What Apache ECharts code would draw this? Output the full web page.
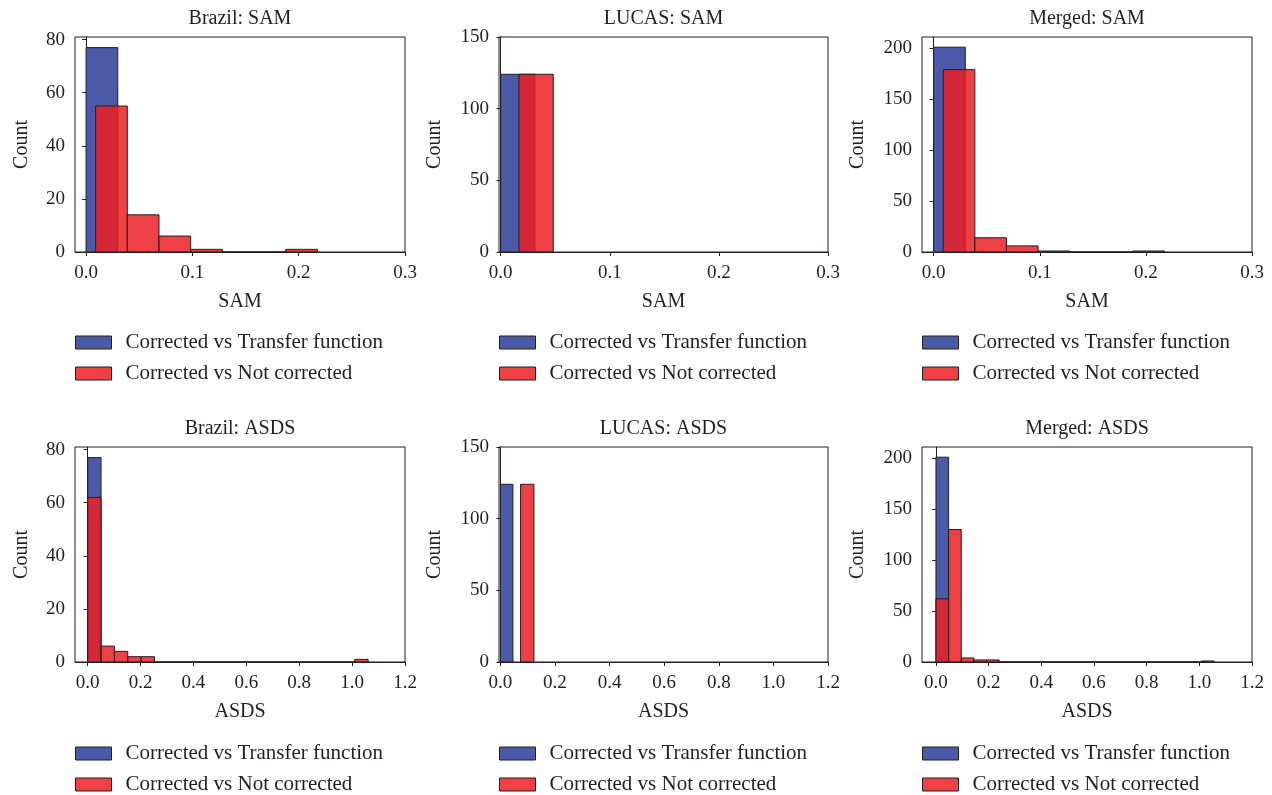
<!DOCTYPE html>
<html>
<head>
<meta charset="utf-8">
<title>SAM / ASDS histograms</title>
<script src="https://cdn.jsdelivr.net/npm/echarts@6/dist/echarts.min.js"></script>
<style>
    html, body { margin: 0; padding: 0; background: #fff; }
    #chart { width: 1272px; height: 795px; }
</style>
</head>
<body>
<div id="chart"></div>
<script>
    // tick labels
    let samTicks = [0, 0.1, 0.2, 0.3];
    let asdsTicks = [0, 0.2, 0.4, 0.6, 0.8, 1.0, 1.2];
    let brazilCountTicks = [0, 20, 40, 60, 80];
    let lucasCountTicks = [0, 50, 100, 150];
    let mergedCountTicks = [0, 50, 100, 150, 200];

    let seriesNames = ['Corrected vs Transfer function', 'Corrected vs Not corrected'];

    // bins: edges (n+1) and counts (n)
    let brazilSamTfEdges = [0, 0.0298];
    let brazilSamTfCounts = [77];
    let brazilSamNcEdges = [0.009, 0.0388, 0.0686, 0.0984, 0.1282, 0.158, 0.1878, 0.2176];
    let brazilSamNcCounts = [55, 14, 6, 1, 0, 0, 1];

    let lucasSamTfEdges = [0, 0.0314];
    let lucasSamTfCounts = [124];
    let lucasSamNcEdges = [0.0168, 0.0482];
    let lucasSamNcCounts = [124];

    let mergedSamTfEdges = [0, 0.0298];
    let mergedSamTfCounts = [201];
    let mergedSamNcEdges = [0.009, 0.0388, 0.0686, 0.0984, 0.1282, 0.158, 0.1878, 0.2176];
    let mergedSamNcCounts = [179, 14, 6, 1, 0, 0, 1];

    let brazilAsdsTfEdges = [0, 0.0505];
    let brazilAsdsTfCounts = [77];
    let brazilAsdsNcEdges = [0, 0.0505, 0.101, 0.1515, 0.202, 0.2525, 0.303, 0.3535, 0.404, 0.4545, 0.505,
        0.5555, 0.606, 0.6565, 0.707, 0.7575, 0.808, 0.8585, 0.909, 0.9595, 1.01, 1.0605];
    let brazilAsdsNcCounts = [62, 6, 4, 2, 2, 0, 0, 0, 0, 0, 0, 0, 0, 0, 0, 0, 0, 0, 0, 0, 1];

    let lucasAsdsTfEdges = [0, 0.046];
    let lucasAsdsTfCounts = [124];
    let lucasAsdsNcEdges = [0.074, 0.123];
    let lucasAsdsNcCounts = [124];

    let mergedAsdsTfEdges = [0, 0.048];
    let mergedAsdsTfCounts = [201];
    let mergedAsdsNcEdges = [0, 0.048, 0.096, 0.144, 0.192, 0.24, 0.288, 0.336, 0.384, 0.432, 0.48, 0.528,
        0.576, 0.624, 0.672, 0.72, 0.768, 0.816, 0.864, 0.912, 0.96, 1.008, 1.056];
    let mergedAsdsNcCounts = [62, 130, 4, 2, 2, 0, 0, 0, 0, 0, 0, 0, 0, 0, 0, 0, 0, 0, 0, 0, 0, 1];

    let font = '"Liberation Serif", "DejaVu Serif", serif';
    let ink = '#231f20';
    let blue = '#4a5aa8';
    let red = 'rgba(236, 30, 36, 0.85)';

    let panels = [
        {title: 'Brazil: SAM', xName: 'SAM', xTicks: samTicks, xMin: -0.0104, xMax: 0.3, yTicks: brazilCountTicks, yMax: 81,
            tf: [brazilSamTfEdges, brazilSamTfCounts], nc: [brazilSamNcEdges, brazilSamNcCounts]},
        {title: 'LUCAS: SAM', xName: 'SAM', xTicks: samTicks, xMin: -0.0015, xMax: 0.3, yTicks: lucasCountTicks, yMax: 150,
            tf: [lucasSamTfEdges, lucasSamTfCounts], nc: [lucasSamNcEdges, lucasSamNcCounts]},
        {title: 'Merged: SAM', xName: 'SAM', xTicks: samTicks, xMin: -0.011, xMax: 0.3, yTicks: mergedCountTicks, yMax: 211,
            tf: [mergedSamTfEdges, mergedSamTfCounts], nc: [mergedSamNcEdges, mergedSamNcCounts]},
        {title: 'Brazil: ASDS', xName: 'ASDS', xTicks: asdsTicks, xMin: -0.048, xMax: 1.2, yTicks: brazilCountTicks, yMax: 81,
            tf: [brazilAsdsTfEdges, brazilAsdsTfCounts], nc: [brazilAsdsNcEdges, brazilAsdsNcCounts]},
        {title: 'LUCAS: ASDS', xName: 'ASDS', xTicks: asdsTicks, xMin: -0.005, xMax: 1.2, yTicks: lucasCountTicks, yMax: 150,
            tf: [lucasAsdsTfEdges, lucasAsdsTfCounts], nc: [lucasAsdsNcEdges, lucasAsdsNcCounts]},
        {title: 'Merged: ASDS', xName: 'ASDS', xTicks: asdsTicks, xMin: -0.053, xMax: 1.2, yTicks: mergedCountTicks, yMax: 211,
            tf: [mergedAsdsTfEdges, mergedAsdsTfCounts], nc: [mergedAsdsNcEdges, mergedAsdsNcCounts]}
    ];

    // plot boxes in pixels
    let lefts = [75, 499, 922];
    let widths = [330, 329, 330];
    let tops = [37, 447];
    let plotH = 215;

    function histSeries(name, color, edges, counts, idx) {
        let bins = [];
        for (let i = 0; i < counts.length; i++) {
            bins.push([edges[i], edges[i + 1], counts[i]]);
        }
        return {
            type: 'custom',
            name: name,
            xAxisIndex: idx,
            yAxisIndex: idx,
            itemStyle: {color: color},
            encode: {x: [0, 1], y: 2},
            data: bins,
            renderItem: function (params, api) {
                let lt = api.coord([api.value(0), api.value(2)]);
                let rb = api.coord([api.value(1), 0]);
                return {
                    type: 'rect',
                    shape: {x: lt[0], y: lt[1], width: rb[0] - lt[0], height: rb[1] - lt[1]},
                    style: {fill: color, stroke: ink, lineWidth: 1}
                };
            }
        };
    }

    let option = {
        animation: false,
        backgroundColor: '#fff',
        title: [], grid: [], xAxis: [], yAxis: [], legend: [], series: []
    };

    panels.forEach(function (p, i) {
        let col = i % 3, row = Math.floor(i / 3);
        let left = lefts[col], top = tops[row], w = widths[col];
        option.title.push({
            text: p.title, left: left + w / 2, top: top - 28, textAlign: 'center', padding: 0,
            textStyle: {fontFamily: font, fontSize: 20, fontWeight: 'normal', color: ink}
        });
        option.grid.push({
            left: left, top: top, width: w, height: plotH,
            show: true, borderColor: ink, borderWidth: 1, backgroundColor: '#fff',
            containLabel: false, outerBoundsMode: 'none'
        });
        option.xAxis.push({
            type: 'value', gridIndex: i, min: p.xMin, max: p.xMax,
            name: p.xName, nameLocation: 'middle', nameGap: 40,
            nameTextStyle: {fontFamily: font, fontSize: 20, color: ink},
            axisLine: {show: true, onZero: false, lineStyle: {color: ink, width: 1}},
            axisTick: {show: true, length: 4, customValues: p.xTicks, lineStyle: {color: ink}},
            axisLabel: {
                customValues: p.xTicks, margin: 12, fontFamily: font, fontSize: 19, color: ink,
                formatter: function (v) { return v.toFixed(1); }
            },
            splitLine: {show: false}
        });
        option.yAxis.push({
            type: 'value', gridIndex: i, min: 0, max: p.yMax,
            name: 'Count', nameLocation: 'middle', nameRotate: 90, nameGap: p.yMax > 100 ? 54 : 43,
            nameTextStyle: {fontFamily: font, fontSize: 20, color: ink},
            axisLine: {show: true, lineStyle: {color: ink, width: 1}},
            axisTick: {show: true, length: 4, customValues: p.yTicks, lineStyle: {color: ink}},
            axisLabel: {customValues: p.yTicks, margin: 10, fontFamily: font, fontSize: 19, color: ink},
            splitLine: {show: false}
        });
        option.legend.push({
            left: left, top: row === 0 ? 332 : 743, orient: 'vertical', icon: 'rect',
            padding: 0, itemWidth: 36, itemHeight: 13, itemGap: 10,
            itemStyle: {borderColor: ink, borderWidth: 1},
            textStyle: {fontFamily: font, fontSize: 21, color: ink, lineHeight: 20, padding: [0, 0, 0, 9]},
            data: seriesNames
        });
        option.series.push(histSeries(seriesNames[0], blue, p.tf[0], p.tf[1], i));
        option.series.push(histSeries(seriesNames[1], red, p.nc[0], p.nc[1], i));
    });

    let myChart = echarts.init(document.getElementById('chart'));
    myChart.setOption(option);
</script>
</body>
</html>
